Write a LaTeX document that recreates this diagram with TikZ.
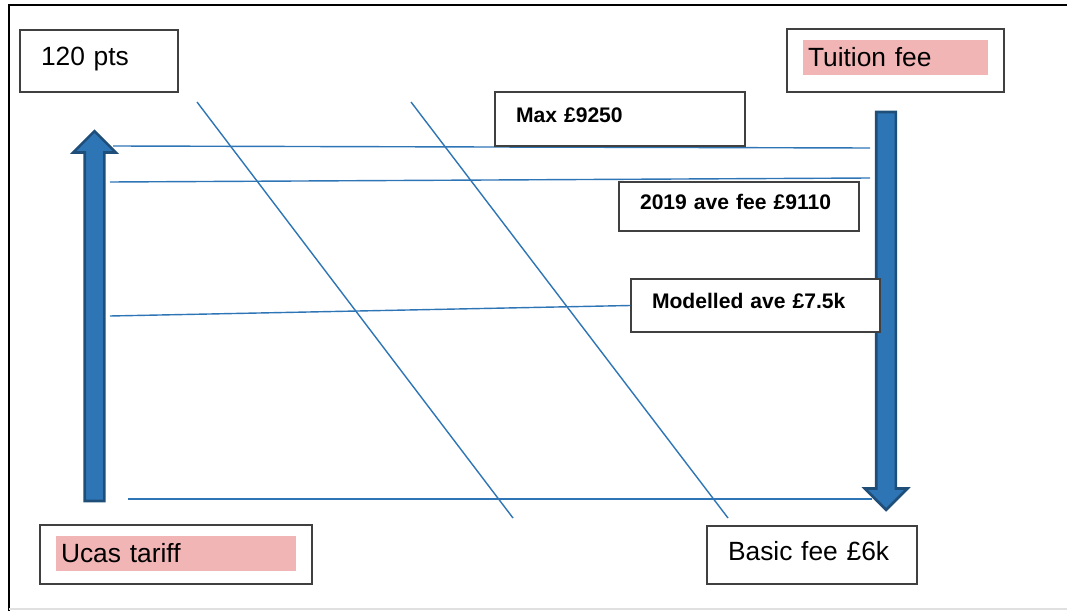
\documentclass[tikz,border=0pt]{standalone}
\usepackage{fontspec}
\setmainfont{Liberation Sans}
\usetikzlibrary{shapes.arrows}
\definecolor{lineblue}{HTML}{2E75B6}
\definecolor{arrowedge}{HTML}{1F4E79}
\definecolor{hlpink}{HTML}{F2B5B5}
\begin{document}
\begin{tikzpicture}[
  x=0.02cm, y=-0.02cm,
  box/.style={rectangle, draw=black!75, line width=0.7pt, fill=white, inner xsep=0.42cm, text depth=0.17cm, align=left, font=\fontsize{15}{18}\selectfont},
  tag/.style={box, font=\bfseries\fontsize{12}{14}\selectfont},
  hl/.style={rectangle, fill=hlpink, inner xsep=0.1cm, align=left, minimum height=0.7cm, font=\fontsize{15}{18}\selectfont},
  bigarrow/.style={single arrow, draw=arrowedge, fill=lineblue, line width=1.5pt, inner xsep=0pt, inner ysep=0.17cm, minimum width=0pt, single arrow head extend=0.23cm},
  link/.style={draw=lineblue, line width=0.8pt}
]
  \useasboundingbox (0,0) rectangle (1067,611);
  \draw[line width=1.6pt] (1067,5) -- (9,5) -- (9,611);
  \draw[black!12, line width=0.8pt] (9,609) -- (1067,609);

  % vertical scales
  \node[bigarrow, minimum height=7.4cm, rotate=90] (tariff) at (94.5,321) {};
  \node[bigarrow, minimum height=7.96cm, rotate=-90] (fee) at (886,306) {};

  % end points of the links
  \coordinate (maxL) at (113,146);
  \coordinate (maxR) at (870,148);
  \coordinate (aveL) at (110,182);
  \coordinate (aveR) at (870,178);
  \coordinate (modL) at (110,316);
  \coordinate (basL) at (128,499);
  \coordinate (basR) at (872,499);
  \coordinate (slantAtop) at (197,102);
  \coordinate (slantAbot) at (513,518);
  \coordinate (slantBtop) at (411,102);
  \coordinate (slantBbot) at (728,518);

  \draw[link] (maxL) -- (maxR);
  \draw[link] (aveL) -- (aveR);
  \draw[link] (basL) -- (basR);
  \draw[link] (slantAtop) -- (slantAbot);
  \draw[link] (slantBtop) -- (slantBbot);

  % boxes
  \node[box, text width=2.32cm, minimum height=1.24cm] (pts) at (99,61) {120 pts};
  \node[box, minimum width=4.34cm, minimum height=1.26cm] (tuition) at (895.5,60.5) {};
  \node[hl, text width=3.5cm] (tuitionhl) at (895.5,57.5) {Tuition fee};
  \node[tag, text width=4.16cm, minimum height=1.08cm] (max) at (620,119) {Max £9250};
  \node[tag, text width=3.96cm, minimum height=0.98cm] (ave) at (739,206.5) {2019 ave fee £9110};
  \node[tag, text width=4.14cm, minimum height=1.06cm] (model) at (755.5,305.5) {Modelled ave £7.5k};
  \node[box, minimum width=5.44cm, minimum height=1.18cm] (ucas) at (176,554.5) {};
  \node[hl, text width=4.6cm] (ucashl) at (176,553.5) {Ucas tariff};
  \node[box, text width=3.36cm, minimum height=1.16cm] (basic) at (812,555) {Basic fee £6k};

  \draw[link] (modL) -- (model.west);
\end{tikzpicture}
\end{document}
